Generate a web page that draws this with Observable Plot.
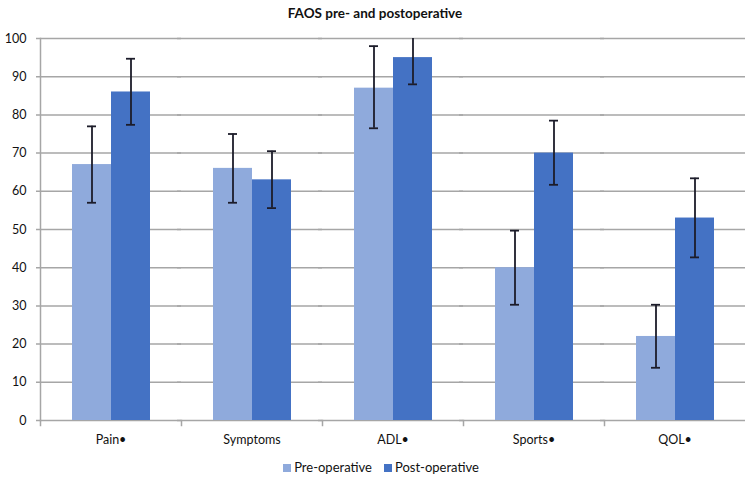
<!DOCTYPE html>
<html>
<head>
<meta charset="utf-8">
<script src="https://cdn.jsdelivr.net/npm/d3@7"></script>
<script src="https://cdn.jsdelivr.net/npm/@observablehq/plot@0.6"></script>
<style>
  body { margin: 0; background: #fff; width: 750px; height: 485px; overflow: hidden;
         font-family: Lato, "Open Sans", sans-serif; }
  #title { height: 26px; line-height: 26px; text-align: center; font-weight: bold; font-size: 13.5px; color: #111; }
  #legend { display: flex; justify-content: center; gap: 12px; font-size: 13px; color: #111; margin-top: 3px; padding-left: 12px; }
  #legend span.sw { display: inline-block; width: 8px; height: 8px; margin-right: 3px; vertical-align: 0px; }
</style>
</head>
<body>
<div id="title">FAOS pre- and postoperative</div>
<div id="chart"></div>
<div id="legend"></div>
<script>
const categories = ["Pain*", "Symptoms", "ADL*", "Sports*", "QOL*"];
const phases = ["Pre-operative", "Post-operative"];
const preValues  = [67, 66, 87, 40, 22];
const preLow     = [57, 57, 76.5, 30.3, 13.8];
const preHigh    = [77, 75, 98, 49.7, 30.3];
const postValues = [86, 63, 95, 70, 53];
const postLow    = [77.4, 55.6, 88, 61.7, 42.7];
const postHigh   = [94.7, 70.5, 102, 78.5, 63.4];
const yTicks = [0, 10, 20, 30, 40, 50, 60, 70, 80, 90, 100];
const colors = ["#8faadc", "#4472c4"];

const data = [];
categories.forEach((c, i) => {
  data.push({cat: c, phase: phases[0], value: preValues[i], lo: preLow[i], hi: preHigh[i]});
  data.push({cat: c, phase: phases[1], value: postValues[i], lo: postLow[i], hi: postHigh[i]});
});

const H = 430, MT = 12, MB = 36;
const chart = Plot.plot({
  width: 750,
  height: H,
  marginTop: MT,
  marginBottom: MB,
  marginLeft: 39,
  marginRight: 5,
  style: {fontFamily: 'Lato, "Open Sans", sans-serif', fontSize: "12.5px", color: "#111", background: "#fff"},
  fx: {domain: categories, padding: 0, label: null, tickSize: 0, tickPadding: 15, tickFormat: d => d.replace("*", "\u2022")},
  x: {domain: phases, paddingInner: 0, paddingOuter: 0.77, axis: null},
  y: {domain: [0, 100], ticks: yTicks, tickSize: 0, tickPadding: 14, label: null},
  color: {domain: phases, range: colors},
  marks: [
    Plot.ruleY(yTicks, {stroke: "#a6a6a6", strokeWidth: 1.5, insetLeft: -4}),
    Plot.frame({anchor: "left", stroke: "#a6a6a6", strokeWidth: 1.5, facetAnchor: "left"}),
    Plot.frame({anchor: "left", stroke: "#a6a6a6", strokeWidth: 1.5, insetTop: H - MT - MB, insetBottom: -5}),
    Plot.barY(data, {fx: "cat", x: "phase", y: "value", fill: "phase"}),
    Plot.ruleX(data, {fx: "cat", x: "phase", y1: "lo", y2: "hi", stroke: "#1c1c2a", strokeWidth: 1.8, clip: true}),
    Plot.tickY(data, {fx: "cat", x: "phase", y: "lo", stroke: "#1c1c2a", strokeWidth: 1.8, insetLeft: 15, insetRight: 15}),
    Plot.tickY(data.filter(d => d.hi <= 100), {fx: "cat", x: "phase", y: "hi", stroke: "#1c1c2a", strokeWidth: 1.8, insetLeft: 15, insetRight: 15})
  ]
});
document.getElementById("chart").appendChild(chart);

const legend = document.getElementById("legend");
phases.forEach((p, i) => {
  const item = document.createElement("div");
  item.innerHTML = `<span class="sw" style="background:${colors[i]}"></span>${p}`;
  legend.appendChild(item);
});
</script>
</body>
</html>
